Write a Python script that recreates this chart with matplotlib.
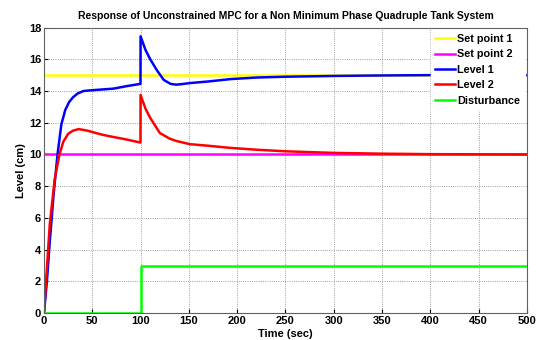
import numpy as np
import matplotlib.pyplot as plt

plt.rcParams['font.family'] = ['Liberation Sans', 'DejaVu Sans']
plt.rcParams['font.weight'] = 'bold'

# time span and set points
t_span = [0, 500]
sp1 = [15, 15]
sp2 = [10, 10]

# tank 1 level
t_l1 = [0, 3, 6, 10, 14, 18, 22, 26, 30, 35, 41, 50, 72, 85, 99.9,
        100, 105, 110, 117, 124, 131, 137, 145, 151, 170, 193, 220, 250, 300, 350, 400, 500]
l1 = [0, 2.0, 4.5, 7.5, 10.0, 11.9, 12.8, 13.3, 13.6, 13.85, 14.0, 14.05, 14.15, 14.3, 14.45,
      17.45, 16.6, 16.0, 15.3, 14.7, 14.45, 14.4, 14.45, 14.5, 14.6, 14.75, 14.85, 14.9, 14.95, 14.98, 15.0, 15.0]

# tank 2 level
t_l2 = [0, 3, 6, 11, 16, 20, 25, 30, 36, 45, 60, 72, 85, 99.9,
        100, 105, 110, 120, 130, 137, 151, 170, 192, 220, 250, 300, 350, 400, 500]
l2 = [0, 2.8, 5.6, 8.4, 10.0, 10.8, 11.3, 11.5, 11.6, 11.5, 11.25, 11.1, 10.95, 10.75,
      13.75, 12.9, 12.3, 11.35, 11.0, 10.85, 10.65, 10.55, 10.42, 10.3, 10.2, 10.1, 10.05, 10.02, 10.0]

# step disturbance
t_d = [0, 100, 100, 500]
dist = [0, 0, 3, 3]

fig = plt.figure(figsize=(5.39, 3.40), dpi=100)
ax = fig.add_axes([0.0816, 0.079, 0.896, 0.84])

lw = 1.8
ax.plot(t_span, sp1, color='#ffff00', lw=lw, label='Set point 1')
ax.plot(t_span, sp2, color='#ff00ff', lw=lw, label='Set point 2')
ax.plot(t_l1, l1, color='#0000ff', lw=lw, label='Level 1')
ax.plot(t_l2, l2, color='#ff0000', lw=lw, label='Level 2')
ax.plot(t_d, dist, color='#00ff00', lw=lw, label='Disturbance')

ax.set_xlim(0, 500)
ax.set_ylim(0, 18)
ax.set_xticks(np.arange(0, 501, 50))
ax.set_yticks(np.arange(0, 19, 2))
ax.tick_params(direction='in', length=3, labelsize=8, pad=2)
ax.grid(True, linestyle=':', color='#808080', linewidth=0.6)
for s in ax.spines.values():
    s.set_color('#606060')
    s.set_linewidth(0.8)

ax.set_xlabel('Time (sec)', fontsize=8, fontweight='bold', labelpad=2)
ax.set_ylabel('Level (cm)', fontsize=8, fontweight='bold', labelpad=2)
ax.set_title('Response of Unconstrained MPC for a Non Minimum Phase Quadruple Tank System',
             fontsize=7.5, fontweight='bold', pad=6)

leg = ax.legend(loc='upper right', bbox_to_anchor=(1.0, 1.0), fontsize=7.8, frameon=True,
                fancybox=False, framealpha=1, edgecolor='white', facecolor='white',
                handlelength=1.8, handletextpad=0.25, labelspacing=0.5, borderpad=0.4,
                borderaxespad=0.2)
for txt in leg.get_texts():
    txt.set_fontweight('bold')

fig.savefig('out.png', dpi=100)
